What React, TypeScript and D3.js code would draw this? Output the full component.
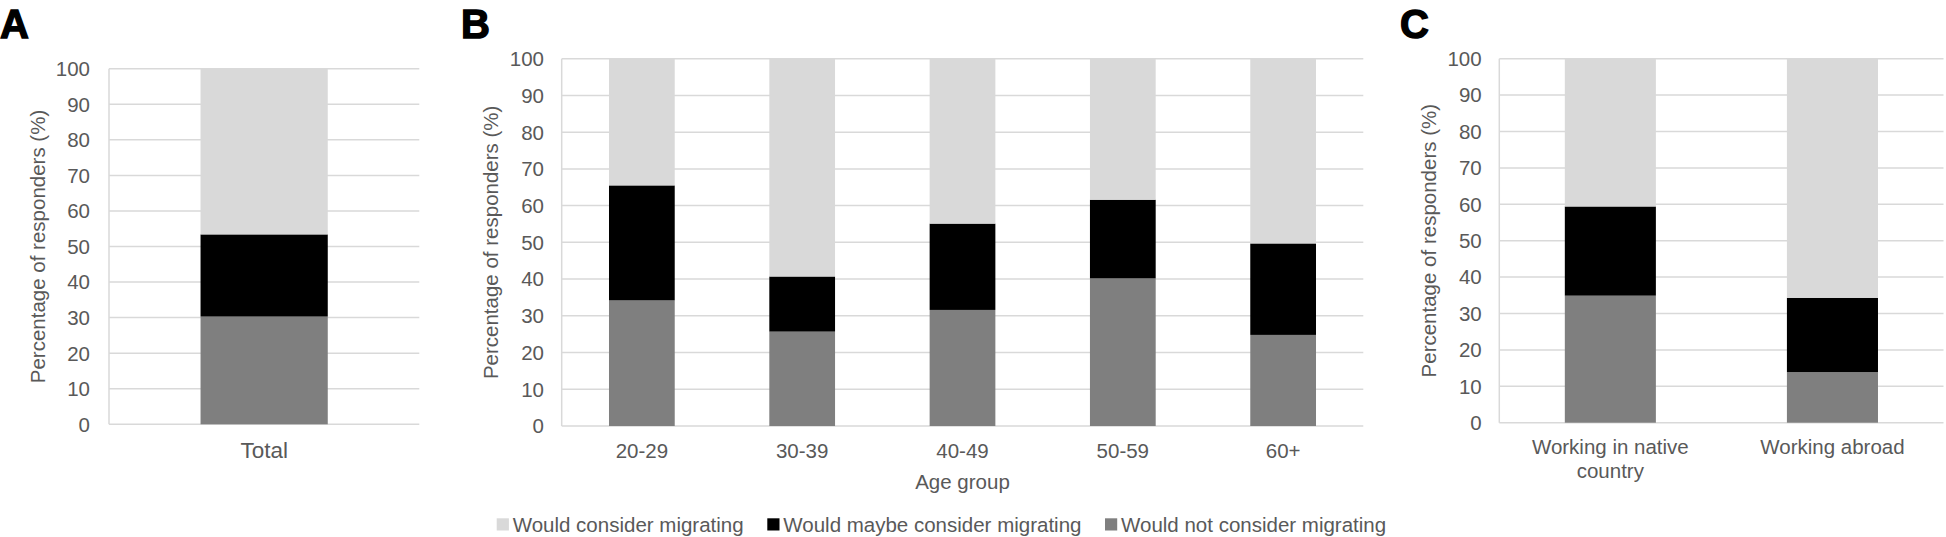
import React from "react";
import * as d3 from "d3";

// ---------- Data ----------
const seriesKeys = ["not", "maybe", "would"];
const seriesLabels = ["Would consider migrating", "Would maybe consider migrating", "Would not consider migrating"];

const totalCategories = ["Total"];
const totalNot = [30.3];
const totalMaybe = [23.1];
const totalWould = [46.6];

const ageCategories = ["20-29", "30-39", "40-49", "50-59", "60+"];
const ageNot = [34.2, 25.7, 31.6, 40.2, 24.8];
const ageMaybe = [31.3, 15.0, 23.5, 21.4, 24.9];
const ageWould = [34.5, 59.3, 44.9, 38.4, 50.3];

const workCategories = ["Working in native country", "Working abroad"];
const workLabelLines = [["Working in native", "country"], ["Working abroad"]];
const workNot = [34.9, 13.9];
const workMaybe = [24.5, 20.4];
const workWould = [40.6, 65.7];

const yTicks = [0, 10, 20, 30, 40, 50, 60, 70, 80, 90, 100];
const yTitle = "Percentage of responders (%)";

// ---------- Styles ----------
const FONT = "'Liberation Sans', Arial, Helvetica, sans-serif";
const TEXT = "#595959";
const GRID = "#d9d9d9";
const colors: Record<string, string> = { not: "#7f7f7f", maybe: "#000000", would: "#d9d9d9" };

type PanelProps = {
  letter: string;
  letterX: number;
  categories: string[];
  labelLines: string[][];
  not: number[];
  maybe: number[];
  would: number[];
  left: number;
  right: number;
  top: number;
  bottom: number;
  tickRight: number;
  titleX: number;
  catBaseline: number;
  catFont: number;
  xTitle?: string;
};

function Panel(p: PanelProps) {
  const x = d3
    .scaleBand<string>()
    .domain(p.categories)
    .range([p.left, p.right])
    .paddingInner(0.59)
    .paddingOuter(0.295);
  const y = d3.scaleLinear().domain([0, 100]).range([p.bottom, p.top]);
  const rows = p.categories.map((c, i) => ({ cat: c, not: p.not[i], maybe: p.maybe[i], would: p.would[i] }));
  const stacked = d3.stack<any>().keys(seriesKeys)(rows);
  const cy = (p.top + p.bottom) / 2;
  return (
    <g>
      <text x={p.letterX} y={38} fontFamily={FONT} fontWeight="bold" fontSize={40} fill="#000" stroke="#000" strokeWidth={1.4}>
        {p.letter}
      </text>
      {yTicks.map((t) => (
        <line key={"g" + t} x1={p.left} x2={p.right} y1={y(t)} y2={y(t)} stroke={GRID} strokeWidth={1.5} />
      ))}
      <line x1={p.left} x2={p.left} y1={y(100)} y2={y(0)} stroke={GRID} strokeWidth={1.5} />
      {yTicks.map((t) => (
        <text key={"t" + t} x={p.tickRight} y={y(t)} dy="0.36em" textAnchor="end" fontFamily={FONT} fontSize={20.5} fill={TEXT}>
          {t}
        </text>
      ))}
      <text
        transform={`translate(${p.titleX},${cy}) rotate(-90)`}
        textAnchor="middle"
        fontFamily={FONT}
        fontSize={20.5}
        fill={TEXT}
      >
        {yTitle}
      </text>
      {stacked.map((s) =>
        s.map((d: any, i: number) => (
          <rect
            key={s.key + i}
            x={x(d.data.cat)}
            width={x.bandwidth()}
            y={y(d[1])}
            height={y(d[0]) - y(d[1])}
            fill={colors[s.key]}
          />
        ))
      )}
      {p.categories.map((c, i) => (
        <text
          key={"c" + c}
          x={(x(c) as number) + x.bandwidth() / 2}
          y={p.catBaseline}
          textAnchor="middle"
          fontFamily={FONT}
          fontSize={p.catFont}
          fill={TEXT}
        >
          {p.labelLines[i].map((ln, j) => (
            <tspan key={j} x={(x(c) as number) + x.bandwidth() / 2} dy={j === 0 ? 0 : 24}>
              {ln}
            </tspan>
          ))}
        </text>
      ))}
      {p.xTitle && (
        <text x={(p.left + p.right) / 2} y={488.5} textAnchor="middle" fontFamily={FONT} fontSize={20.5} fill={TEXT}>
          {p.xTitle}
        </text>
      )}
    </g>
  );
}

export default function App() {
  const legendOrder = ["would", "maybe", "not"];
  const legendX = [496.7, 767.3, 1105];
  return (
    <svg width={1946} height={537} style={{ position: "absolute", left: 0, top: 0, background: "#fff" }}>
      <rect width={1946} height={537} fill="#fff" />
      <Panel
        letter="A"
        letterX={0}
        categories={totalCategories}
        labelLines={totalCategories.map((c) => [c])}
        not={totalNot}
        maybe={totalMaybe}
        would={totalWould}
        left={109}
        right={419.3}
        top={68.7}
        bottom={424.3}
        tickRight={90}
        titleX={45}
        catBaseline={458}
        catFont={22.5}
      />
      <Panel
        letter="B"
        letterX={461}
        categories={ageCategories}
        labelLines={ageCategories.map((c) => [c])}
        not={ageNot}
        maybe={ageMaybe}
        would={ageWould}
        left={561.7}
        right={1363.3}
        top={58.7}
        bottom={426}
        tickRight={544}
        titleX={497.6}
        catBaseline={457.7}
        catFont={20.5}
        xTitle="Age group"
      />
      <Panel
        letter="C"
        letterX={1400}
        categories={workCategories}
        labelLines={workLabelLines}
        not={workNot}
        maybe={workMaybe}
        would={workWould}
        left={1499.3}
        right={1943.5}
        top={58.7}
        bottom={422.7}
        tickRight={1481.7}
        titleX={1436}
        catBaseline={454.4}
        catFont={20.5}
      />
      {legendOrder.map((k, i) => (
        <g key={k}>
          <rect x={legendX[i]} y={518.3} width={12.2} height={12.2} fill={colors[k]} />
          <text x={legendX[i] + 16} y={531.6} fontFamily={FONT} fontSize={20.5} fill={TEXT}>
            {seriesLabels[i]}
          </text>
        </g>
      ))}
    </svg>
  );
}
